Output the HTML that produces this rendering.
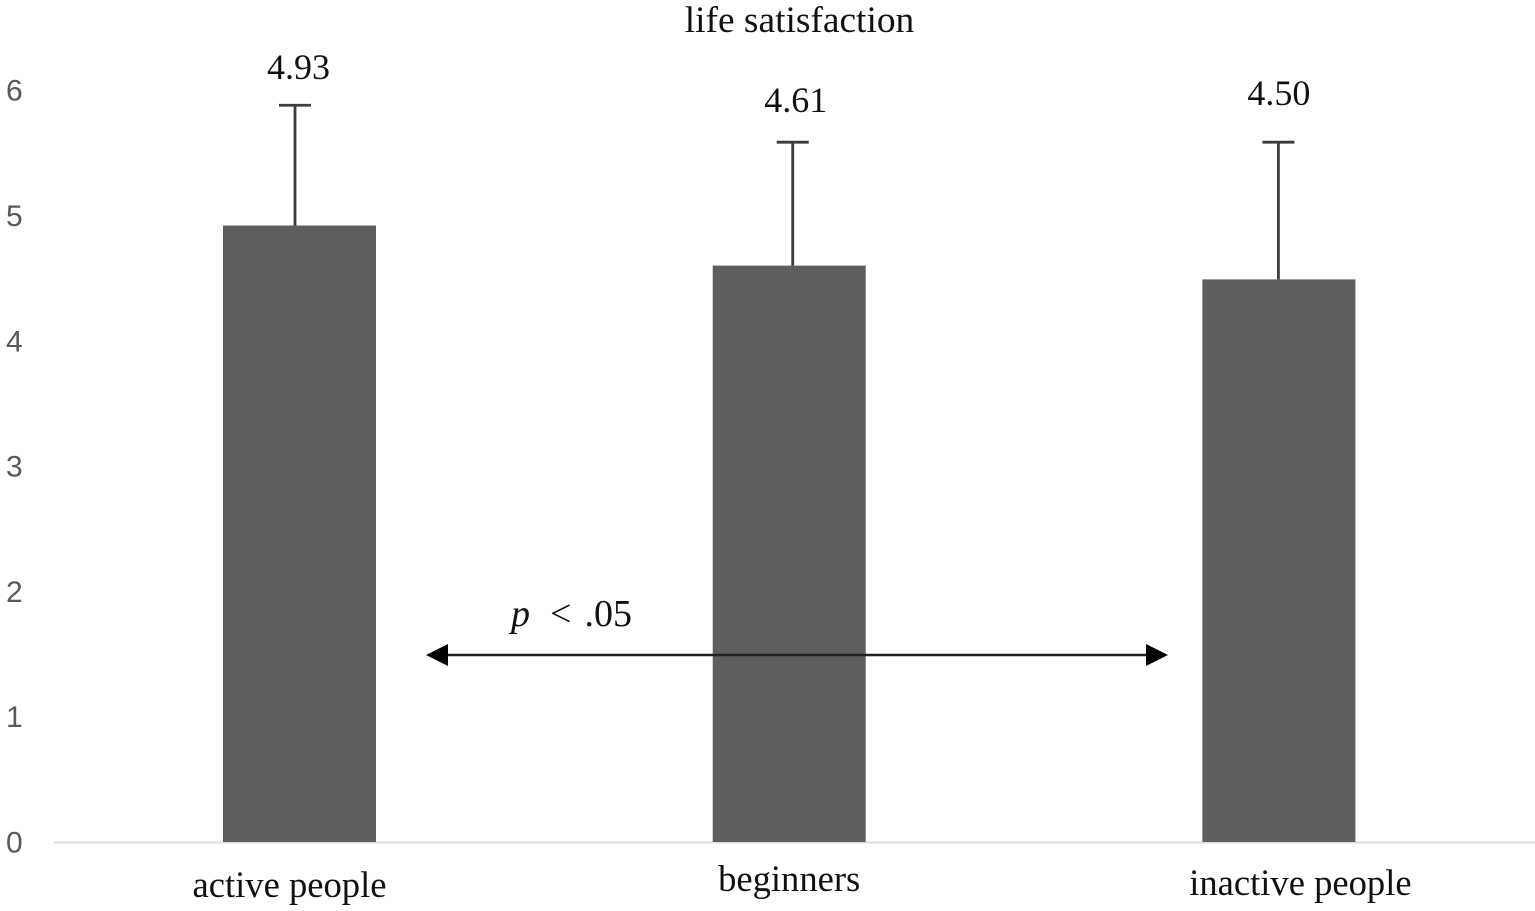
<!DOCTYPE html>
<html lang="en">
<head>
<meta charset="utf-8">
<title>life satisfaction</title>
<style>
html,body{margin:0;padding:0;background:#fff;}
svg{display:block;}
.serif{font-family:"Liberation Serif",serif;fill:#111;}
.tick{font-family:"Liberation Sans",sans-serif;font-size:30px;fill:#595959;}
.value{font-size:36px;text-anchor:middle;}
.cat{font-size:36.6px;text-anchor:middle;}
.title{font-size:37.4px;text-anchor:middle;}
.val-0{transform:translate(-1px,1px);}
.val-1{transform:translate(6.5px,34px);}
.val-2{transform:translate(0px,27px);}
.cat-0{transform:translate(-10px,1px);}
.cat-1{transform:translate(0,-5px);}
.cat-2{transform:translate(21.5px,-1px);}
.err-0{transform:translate(-4.5px,0);}
.err-1{transform:translate(3.5px,0);}
.err-2{transform:translate(-0.5px,0);}
</style>
</head>
<body>
<svg id="chart" width="1535" height="911" viewBox="0 0 1535 911" xmlns="http://www.w3.org/2000/svg">
  <text class="serif title" x="799.5" y="32">life satisfaction</text>
  <g id="ticks"></g>
  <line x1="54" x2="1535" y1="842.5" y2="842.5" stroke="#dcdcdc" stroke-width="2"></line>
  <g id="bars"></g>
  <g id="errors"></g>
  <g id="values"></g>
  <g id="cats"></g>
  <g>
    <line x1="440" x2="1155" y1="655" y2="655" stroke="#222" stroke-width="2.6"></line>
    <polygon points="426,655 448,644 448,666" fill="#000"></polygon>
    <polygon points="1168,655 1146,644 1146,666" fill="#000"></polygon>
    <text class="serif" x="511" y="626" font-size="38"><tspan font-style="italic">p</tspan><tspan dx="20">&lt;</tspan><tspan dx="13">.05</tspan></text>
  </g>
</svg>
<script>
const categories = ['active people', 'beginners', 'inactive people'];
const means = [4.92, 4.60, 4.49];
const printedValues = ['4.93', '4.61', '4.50'];
const errorTops = [5.88, 5.585, 5.585];
const yTicks = [0, 1, 2, 3, 4, 5, 6];

const NS = 'http://www.w3.org/2000/svg';
function y(v) { return 842 - v * 125.3; }
function xCenter(i) { return 299.5 + i * 489.7; }
const barWidth = 153;

function make(tag, attrs, parent, text) {
  const el = document.createElementNS(NS, tag);
  for (const k in attrs) el.setAttribute(k, attrs[k]);
  if (text !== undefined) el.textContent = text;
  parent.appendChild(el);
  return el;
}

const tickGroup = document.getElementById('ticks');
const barGroup = document.getElementById('bars');
const errGroup = document.getElementById('errors');
const valGroup = document.getElementById('values');
const catGroup = document.getElementById('cats');

yTicks.forEach(function (t) {
  const el = make('text', { class: 'tick', x: 6, y: y(t) + 10.5 }, tickGroup, String(t));
  
  
});

categories.forEach(function (c, i) {
  const cx = xCenter(i);
  const bar = make('rect', { x: cx - barWidth / 2, y: y(means[i]), width: barWidth, height: 842 - y(means[i]), fill: '#5e5e5e' }, barGroup);
  
  

  const g = make('g', { class: 'err-' + i }, errGroup);
  
  
  make('line', { x1: cx, x2: cx, y1: y(errorTops[i]), y2: y(means[i]), stroke: '#3c3c3c', 'stroke-width': 2.8 }, g);
  make('line', { x1: cx - 16, x2: cx + 16, y1: y(errorTops[i]), y2: y(errorTops[i]), stroke: '#3c3c3c', 'stroke-width': 2.8 }, g);

  const val = make('text', { class: 'serif value val-' + i, x: cx, y: y(5.88) - 27 }, valGroup, printedValues[i]);
  
  

  const lab = make('text', { class: 'serif cat cat-' + i, x: cx, y: 896 }, catGroup, c);
  
  
});
</script>
</body>
</html>
